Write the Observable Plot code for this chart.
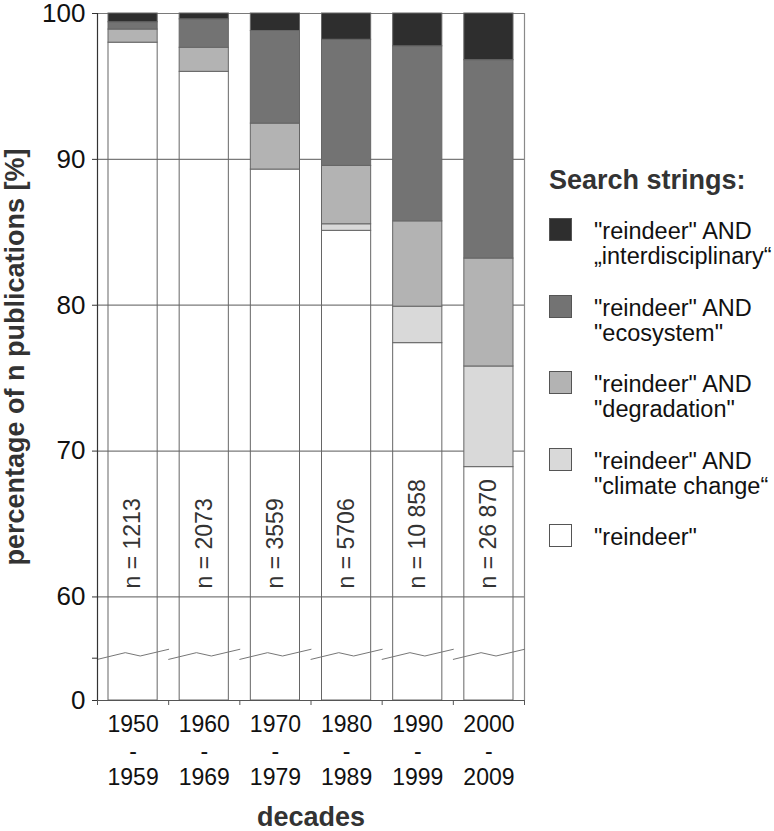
<!DOCTYPE html>
<html>
<head>
<meta charset="utf-8">
<script src="https://cdn.jsdelivr.net/npm/d3@7"></script>
<script src="https://cdn.jsdelivr.net/npm/@observablehq/plot@0.6"></script>
<style>
  body { margin: 0; background: #fff; font-family: "Liberation Sans", Arial, sans-serif; }
  #wrap { position: relative; width: 774px; height: 831px; }
  #legend { position: absolute; left: 0; top: 0; width: 774px; height: 831px; pointer-events: none; }
  .lg-title { position: absolute; font-weight: bold; font-size: 27px; line-height: 30px; color: #333; white-space: nowrap; }
  .lg-sw { position: absolute; width: 23px; height: 23px; box-sizing: border-box; border: 1px solid #555; }
  .lg-tx { position: absolute; font-size: 23.5px; line-height: 24px; color: #111; white-space: nowrap; }
</style>
</head>
<body>
<div id="wrap"><div id="chart"></div><div id="legend"></div></div>
<script>
// ---- data ----
const decadeStart = [1950, 1960, 1970, 1980, 1990, 2000];
const decadeEnd   = [1959, 1969, 1979, 1989, 1999, 2009];
const nPublications = [1213, 2073, 3559, 5706, 10858, 26870];

// percentage shares per decade (bottom to top of each bar)
const pctReindeer          = [98.0, 96.0, 89.3, 85.1, 77.4, 68.9];
const pctClimateChange     = [0.0, 0.0, 0.0, 0.45, 2.5, 6.9];
const pctDegradation       = [0.9, 1.65, 3.15, 4.0, 5.85, 7.4];
const pctEcosystem         = [0.5, 1.95, 6.35, 8.65, 12.0, 13.6];
const pctInterdisciplinary = [0.6, 0.4, 1.2, 1.8, 2.25, 3.2];

const seriesNames = [
  "\"reindeer\"",
  "\"reindeer\" AND \"climate change“",
  "\"reindeer\" AND \"degradation\"",
  "\"reindeer\" AND \"ecosystem\"",
  "\"reindeer\" AND „interdisciplinary“"
];
const seriesValues = [pctReindeer, pctClimateChange, pctDegradation, pctEcosystem, pctInterdisciplinary];
const seriesFills = ["none", "#d9d9d9", "#b3b3b3", "#737373", "#2e2e2e"];
const legendLines = [
  ["\"reindeer\" AND", "„interdisciplinary“"],
  ["\"reindeer\" AND", "\"ecosystem\""],
  ["\"reindeer\" AND", "\"degradation\""],
  ["\"reindeer\" AND", "\"climate change“"],
  ["\"reindeer\""]
];
const legendFills = ["#2e2e2e", "#737373", "#b3b3b3", "#d9d9d9", "#ffffff"];
const yTickValues = [0, 60, 70, 80, 90, 100];

// ---- broken axis: 0..60 compressed into a short segment ----
const BREAK_TOP = 60, AXIS_BOTTOM = 52.9, BREAK_MARK = 55.8;
const brk = v => v >= BREAK_TOP ? v : BREAK_TOP - (BREAK_TOP - v) / BREAK_TOP * (BREAK_TOP - AXIS_BOTTOM);

// stacked rows
const rows = [];
decadeStart.forEach((d, i) => {
  let lo = 0;
  seriesValues.forEach((vals, s) => {
    const v = vals[i];
    if (v > 0) rows.push({i, s, y1: brk(lo), y2: brk(lo + v)});
    lo += v;
  });
});

// break symbol (zig-zag) per decade band
const zigShape = [[0, -0.08], [0.39, 0.38], [0.6, 0.15], [1.0, 0.61]];
const zigRows = decadeStart.flatMap((d, i) => zigShape.map(([f, o]) => ({i, x: i + f, y: BREAK_MARK + o})));

const fmtN = n => n >= 10000 ? d3.format(",")(n).replace(/,/g, " ") : String(n);
const tickLabel = new Map(yTickValues.map(v => [brk(v), String(v)]));

const plot = Plot.plot({
  width: 774,
  height: 831,
  marginLeft: 97,
  marginRight: 250,
  marginTop: 13,
  marginBottom: 131,
  style: {fontFamily: "'Liberation Sans', Arial, sans-serif", color: "#111", background: "#fff"},
  x: {type: "linear", domain: [0, decadeStart.length], axis: null, label: null},
  y: {type: "linear", domain: [AXIS_BOTTOM, 100], axis: null, label: null},
  marks: [
    Plot.ruleY([60, 70, 80, 90, 100].map(brk), {stroke: "#7a7a7a", strokeWidth: 1.2}),
    Plot.ruleX([decadeStart.length], {stroke: "#8a8a8a", strokeWidth: 1.2}),
    Plot.rectY(rows, {
      x1: d => d.i, x2: d => d.i + 1, y1: "y1", y2: "y2",
      insetLeft: 11, insetRight: 11,
      fill: d => seriesFills[d.s], stroke: "#666", strokeWidth: 1
    }),
    Plot.line(zigRows, {x: "x", y: "y", z: "i", stroke: "#777", strokeWidth: 1}),
    Plot.text(decadeStart, {
      x: (d, i) => i + 0.5, text: (d, i) => "n = " + fmtN(nPublications[i]),
      frameAnchor: "bottom", dy: -112, rotate: -90, textAnchor: "start", lineAnchor: "middle",
      fontSize: 23, fill: "#333"
    }),
    Plot.ruleX([0], {stroke: "#333", strokeWidth: 1.2}),
    Plot.ruleY([brk(0)], {stroke: "#555", strokeWidth: 1.2}),
    Plot.axisY({
      ticks: [...yTickValues.map(brk), BREAK_MARK],
      tickFormat: t => tickLabel.get(t) ?? "",
      tickSize: 5, tickPadding: 7, fontSize: 26, label: null, stroke: "#333"
    }),
    Plot.axisX({
      ticks: d3.range(decadeStart.length + 1),
      tickFormat: () => "", tickSize: 5, label: null, stroke: "#555"
    }),
    Plot.axisX({
      ticks: decadeStart.map((d, i) => i + 0.5),
      tickFormat: t => { const i = Math.floor(t); return decadeStart[i] + "\n-\n" + decadeEnd[i]; },
      tickSize: 0, tickPadding: 13, fontSize: 23, lineHeight: 1.15, label: null
    }),
    Plot.text(["percentage of n publications [%]"], {
      text: d => d, frameAnchor: "left", dx: -82, rotate: -90, textAnchor: "middle",
      fontSize: 27, fontWeight: "bold", fill: "#333", lineAnchor: "middle"
    }),
    Plot.text(["decades"], {
      text: d => d, frameAnchor: "bottom", dy: 117,
      fontSize: 27, fontWeight: "bold", fill: "#333", lineAnchor: "middle"
    })
  ]
});
document.getElementById("chart").appendChild(plot);

// ---- legend ----
const lg = document.getElementById("legend");
const t = document.createElement("div");
t.className = "lg-title"; t.textContent = "Search strings:";
t.style.left = "549px"; t.style.top = "165px";
lg.appendChild(t);
legendLines.forEach((lines, k) => {
  const top = 218 + k * 76.5;
  const sw = document.createElement("div");
  sw.className = "lg-sw"; sw.style.left = "549px"; sw.style.top = top + "px";
  sw.style.background = legendFills[k];
  lg.appendChild(sw);
  lines.forEach((ln, j) => {
    const tx = document.createElement("div");
    tx.className = "lg-tx"; tx.textContent = ln;
    tx.style.left = "594px"; tx.style.top = (top + 1 + j * 25) + "px";
    lg.appendChild(tx);
  });
});
</script>
</body>
</html>
